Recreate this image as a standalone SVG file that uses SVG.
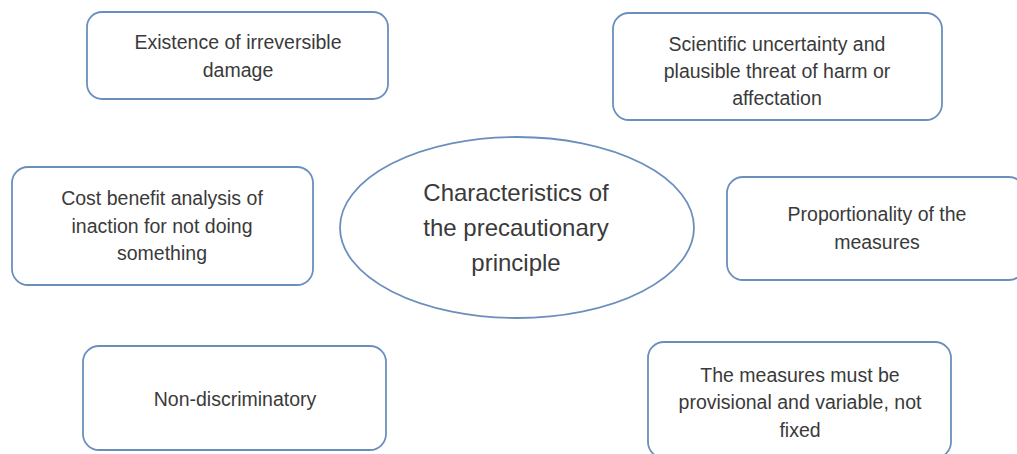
<svg xmlns="http://www.w3.org/2000/svg" width="1017" height="454" viewBox="0 0 1017 454">
<style>
.box{fill:#ffffff;stroke:#6b8fbd;stroke-width:1.8}
.t{font-family:"Liberation Sans",Arial,sans-serif;font-size:19.5px;fill:#3a3a3a;text-anchor:middle}
.c{font-family:"Liberation Sans",Arial,sans-serif;font-size:24px;fill:#3a3a3a;text-anchor:middle}
</style>
<rect width="1017" height="454" fill="#ffffff"/>
<g id="connectors"></g>
<g id="n1">
<rect class="box" x="87" y="12" width="301" height="87" rx="15"/>
<text class="t" x="238" y="49">Existence of irreversible</text>
<text class="t" x="238" y="77">damage</text>
</g>
<g id="n2">
<rect class="box" x="613" y="13" width="329" height="107" rx="16"/>
<text class="t" x="777" y="51">Scientific uncertainty and</text>
<text class="t" x="777" y="78">plausible threat of harm or</text>
<text class="t" x="777" y="105">affectation</text>
</g>
<g id="n3">
<rect class="box" x="12" y="167" width="301" height="118" rx="16"/>
<text class="t" x="162" y="205">Cost benefit analysis of</text>
<text class="t" x="162" y="233">inaction for not doing</text>
<text class="t" x="162" y="260">something</text>
</g>
<g id="center">
<ellipse class="box" cx="517" cy="227.5" rx="177" ry="90.5"/>
<text class="c" x="516" y="201">Characteristics of</text>
<text class="c" x="516" y="236">the precautionary</text>
<text class="c" x="516" y="271">principle</text>
</g>
<g id="n5">
<rect class="box" x="727" y="177" width="298" height="103" rx="16"/>
<text class="t" x="877" y="221">Proportionality of the</text>
<text class="t" x="877" y="249">measures</text>
</g>
<g id="n6">
<rect class="box" x="83" y="346" width="303" height="104" rx="16"/>
<text class="t" x="235" y="406">Non-discriminatory</text>
</g>
<g id="n7">
<rect class="box" x="648" y="342" width="303" height="116" rx="16"/>
<text class="t" x="800" y="382">The measures must be</text>
<text class="t" x="800" y="409">provisional and variable, not</text>
<text class="t" x="800" y="437">fixed</text>
</g>
</svg>
